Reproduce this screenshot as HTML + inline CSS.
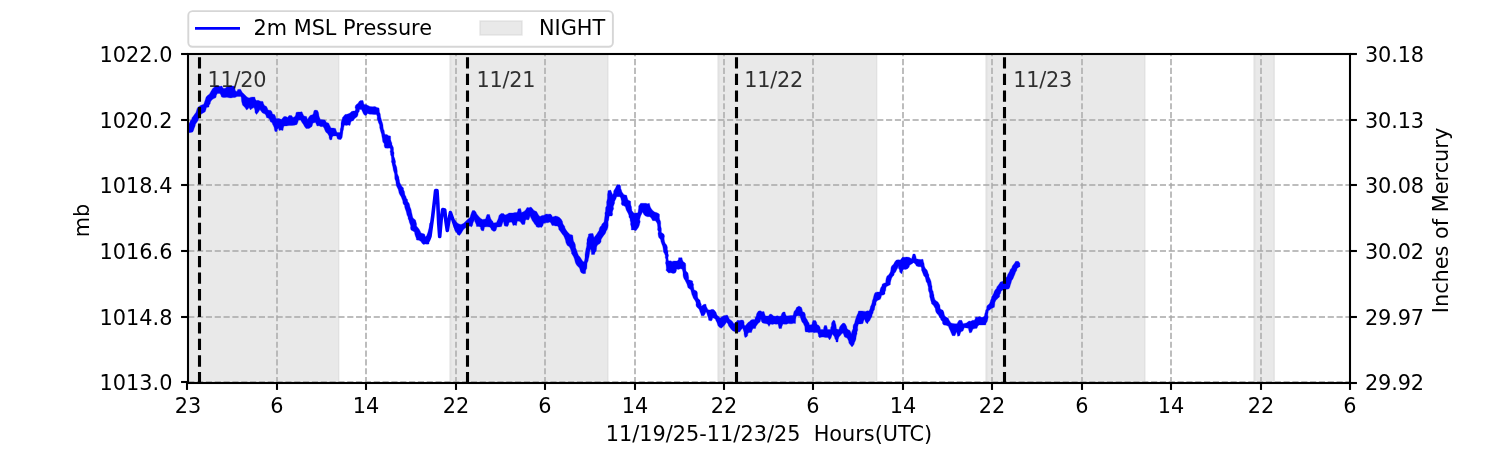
<!DOCTYPE html>
<html lang="en"><head><meta charset="utf-8"><title>2m MSL Pressure</title>
<style>html,body{margin:0;padding:0;background:#fff;}body{width:1500px;height:450px;overflow:hidden;}svg{display:block;}text{font-family:"DejaVu Sans","Liberation Sans",sans-serif;font-size:20.83px;fill:#000;}</style></head><body>
<svg width="1500" height="450" viewBox="0 0 1500 450">
<rect width="1500" height="450" fill="#fff"/>
<defs><clipPath id="ax"><rect x="187.5" y="54" width="1162.5" height="328.5"/></clipPath></defs>
<g clip-path="url(#ax)">
<rect x="186" y="49" width="152.7" height="338" fill="#d3d3d3" fill-opacity="0.5"/>
<path d="M338.7 49V387" stroke="#d3d3d3" stroke-opacity="0.5" stroke-width="1.4" fill="none"/>
<rect x="450.3" y="49" width="157.6" height="338" fill="#d3d3d3" fill-opacity="0.5"/>
<path d="M450.3 49V387" stroke="#d3d3d3" stroke-opacity="0.5" stroke-width="2" fill="none"/>
<path d="M607.9 49V387" stroke="#d3d3d3" stroke-opacity="0.5" stroke-width="1.4" fill="none"/>
<rect x="718.3" y="49" width="158.4" height="338" fill="#d3d3d3" fill-opacity="0.5"/>
<path d="M718.3 49V387" stroke="#d3d3d3" stroke-opacity="0.5" stroke-width="2" fill="none"/>
<path d="M876.7 49V387" stroke="#d3d3d3" stroke-opacity="0.5" stroke-width="1.4" fill="none"/>
<rect x="986.3" y="49" width="158.6" height="338" fill="#d3d3d3" fill-opacity="0.5"/>
<path d="M986.3 49V387" stroke="#d3d3d3" stroke-opacity="0.5" stroke-width="2" fill="none"/>
<path d="M1144.9 49V387" stroke="#d3d3d3" stroke-opacity="0.5" stroke-width="1.4" fill="none"/>
<rect x="1254.3" y="49" width="19.9" height="338" fill="#d3d3d3" fill-opacity="0.5"/>
<path d="M1254.3 49V387" stroke="#d3d3d3" stroke-opacity="0.5" stroke-width="2" fill="none"/>
<path d="M1274.2 49V387" stroke="#d3d3d3" stroke-opacity="0.5" stroke-width="1.4" fill="none"/>
</g>
<g stroke="#a8a8a8" stroke-width="1.667" stroke-dasharray="6.1667 2.6667" fill="none" clip-path="url(#ax)">
<path stroke="#b0b0b0" d="M188 383.2V54"/>
<path stroke="#b0b0b0" d="M277 383.2V54"/>
<path stroke="#b0b0b0" d="M366 383.2V54"/>
<path stroke="#b0b0b0" d="M456 383.2V54"/>
<path stroke="#b0b0b0" d="M545 383.2V54"/>
<path stroke="#b0b0b0" d="M635 383.2V54"/>
<path stroke="#b0b0b0" d="M724 383.2V54"/>
<path stroke="#b0b0b0" d="M813 383.2V54"/>
<path stroke="#b0b0b0" d="M903 383.2V54"/>
<path stroke="#b0b0b0" d="M992 383.2V54"/>
<path stroke="#b0b0b0" d="M1082 383.2V54"/>
<path stroke="#b0b0b0" d="M1171 383.2V54"/>
<path stroke="#b0b0b0" d="M1261 383.2V54"/>
<path stroke="#b0b0b0" d="M1350 383.2V54"/>
<path d="M188.2 54H1350"/>
<path d="M188.2 120H1350"/>
<path d="M188.2 185H1350"/>
<path d="M188.2 251H1350"/>
<path d="M188.2 317H1350"/>
<path d="M188.2 382H1350"/>
</g>
<path d="M187.5 126 L188.9 124.1 L189.62 122.46 L190.34 120.83 L191.6 119.49 L192 117.67 L193.2 116.3 L194.58 114.37 L195.9 112.4 L196.56 110.55 L197.07 108.64 L198.2 107 L200.5 105.4 L203.7 104.3 L204.46 102.15 L205.2 100 L205.5 99 L206.14 97.04 L207.5 95.5 L209.5 94 L210.45 92.22 L211.5 90.5 L212.45 88.75 L214 87.5 L215 86.2 L216.74 85.78 L218.5 86.03 L220.26 86.34 L222 86 L223 88.2 L225 88.5 L226.5 87 L228 86.5 L230.15 86.06 L232.32 86.05 L234.5 86.2 L234.89 88.62 L235.5 91 L237 91.5 L237.7 89.5 L240.5 89.2 L241.5 91 L242.36 92.6 L243.78 93.71 L245 95 L247 97 L249 98 L251 97.2 L253 97.11 L255 97.2 L255.2 99 L256.2 100.5 L258.15 100.35 L260 101 L260.5 101.2 L263 101.5 L263.45 103.61 L264.5 105.5 L266.5 106.5 L267.42 108.18 L268 110 L271 110.5 L272.04 112.12 L272.5 114 L274.5 114.5 L275.57 116.38 L276 118.5 L279 118.5 L281.5 119.5 L282.62 117.89 L284 116.5 L286 116.5 L287.5 117.5 L289 115.5 L291.5 115.5 L293 117.5 L295 116.5 L295.78 114.57 L296 112.5 L297.97 111.98 L300.01 112.11 L302 111.8 L302.89 113.95 L304 116 L306.5 116.5 L307.5 119.5 L308.65 117.44 L310 115.5 L313 114.5 L313.54 112.51 L314 110.5 L315.75 110.11 L317.5 110.5 L318.38 112.23 L318.76 114.1 L319 116 L319.6 117.81 L320.5 119.5 L322.76 119.69 L325 120 L326.5 122.5 L328.5 123 L330 126 L331 128 L333.27 128.08 L335.5 128.5 L336.18 130.53 L337 132.5 L340 132.5 L340.16 130.7 L340.22 128.88 L340.86 127.13 L340.98 125.32 L341 123.5 L341.28 121.44 L342.06 119.52 L342.5 117.5 L343.77 116.01 L345 114.5 L346.76 114.32 L348.39 113.7 L350 113 L351.5 111.5 L353.22 111.06 L355 111 L355.6 109.21 L354.99 107.3 L355.5 105.5 L356.7 104.2 L358.16 103.16 L359.03 101.53 L360.5 100.5 L363 100.5 L363.51 102.5 L364 104.5 L366.1 104.6 L368 105.5 L370 106.5 L372.5 106.65 L375 106.5 L376.92 107.47 L379 108 L379.31 110.01 L379.42 112.06 L380.29 113.97 L380.5 116 L380.83 117.85 L381.42 119.62 L381.93 121.42 L382.54 123.19 L383 125 L383.1 126.96 L383.41 128.88 L384.22 130.7 L384.46 132.63 L385 134.5 L386.94 134.62 L388.62 135.67 L390.5 136 L390.67 137.76 L390.66 139.56 L391.11 141.27 L391.89 142.93 L392 144.7 L393.3 147.3 L393.54 149.17 L393.43 151.07 L394.15 152.91 L393.89 154.82 L394 156.7 L394.69 158.35 L395.14 160.06 L395.59 161.77 L395.36 163.63 L396 165.3 L396.73 167.23 L397.02 169.26 L397.3 171.28 L397.27 173.37 L398 175.3 L398.86 176.94 L399.04 178.77 L399.46 180.53 L399.67 182.36 L400.5 184 L401.77 186.17 L403.5 188 L403.55 189.82 L404.44 191.46 L404.7 193.23 L405 195 L405.94 196.44 L406.36 198.17 L407.5 199.5 L407.73 201.51 L409.05 203.15 L409.65 205.03 L410 207 L410.73 208.6 L411.23 210.26 L411.5 212 L412.01 214 L412.42 216.02 L413 218 L415.5 220 L416.04 221.96 L416.61 223.93 L416.5 226 L417.81 227.45 L419 229 L420.11 230.95 L421 233 L422.73 233.56 L424.5 234 L425.5 237 L426.7 235.52 L427.32 233.74 L428 232 L428.39 230.25 L428.85 228.52 L429.28 226.78 L429.5 225 L429.76 223.12 L431.12 221.64 L431.66 219.87 L432.38 218.16 L432.7 216.3 L433.17 214.6 L433 212.83 L433.21 211.1 L433.15 209.34 L433.82 207.66 L433.51 205.87 L433.71 204.15 L434.04 202.43 L434.2 200.7 L434.7 199 L434.78 196.88 L434.75 194.76 L434.93 192.65 L435.6 190.6 L437 190.6 L437.43 192.35 L437.59 194.12 L437.47 195.91 L437.88 197.66 L437.24 199.48 L437.58 201.24 L437.8 203 L438.2 204.8 L438.19 206.63 L438.18 208.45 L438.25 210.27 L438.55 212.08 L437.98 213.92 L437.93 215.75 L438.49 217.54 L438.55 219.36 L438.99 221.17 L438.7 223 L439.2 224.9 L439.13 226.85 L439.34 228.77 L438.98 230.74 L439.72 232.62 L439.99 234.54 L439.7 236.5 L440.26 234.73 L440.04 232.9 L439.85 231.07 L440.36 229.3 L440.05 227.46 L440.66 225.7 L441.22 223.94 L441.27 222.13 L441.1 220.3 L441.54 218.53 L441.42 216.67 L441.78 214.88 L441.87 213.06 L442.68 211.34 L442.7 209.5 L444.7 210 L444.89 211.95 L444.88 213.93 L445.5 215.83 L445.81 217.77 L445.5 219.78 L446 221.7 L445.83 223.52 L446.21 225.27 L446.51 227.02 L446.76 228.78 L447.3 230.5 L447.79 228.77 L447.62 226.94 L448.16 225.22 L448.29 223.44 L448.7 221.7 L448.62 219.78 L448.96 217.94 L449.52 216.14 L449.85 214.3 L450.4 212.5 L450.81 214.18 L451.16 215.89 L452.17 217.36 L452.7 219 L455 220 L456.06 221.61 L457.36 222.98 L459 224 L461 224.5 L463.22 223.6 L465 222 L466.41 220.41 L468 219 L470 217.5 L470.39 215.67 L471.02 213.92 L471.62 212.16 L472.5 210.5 L474.5 210.5 L475.88 212.01 L476.74 213.9 L478 215.5 L479.26 217.1 L480.8 218.4 L482.5 219.5 L485.5 219 L486.23 216.74 L487 214.5 L489.5 214.5 L490.04 216.38 L490.58 218.26 L491.5 220 L492.81 221.29 L493.5 223 L496.5 222.5 L497.26 220.8 L498.1 219.12 L498.61 217.34 L499 215.5 L501 213.5 L503.5 213.5 L505 215 L507.1 214.2 L509 213 L511 212.98 L513 213 L514.96 212.46 L517 212.5 L517.75 210.82 L518 209 L520.5 208.5 L521.15 210.46 L521.5 212.5 L524 211.5 L525.72 209.66 L527 207.5 L529.05 207.67 L531 207 L532.57 208.69 L534 210.5 L536.5 211.5 L537.58 213.21 L538.5 215 L540 216.5 L542 215.5 L544.14 215.13 L546 214 L548.25 214.2 L550.5 214 L551.75 215.34 L552.5 217 L555.5 216 L557.62 216.44 L559.5 217.5 L561.25 219.31 L562.5 221.5 L562.78 223.26 L563.49 224.85 L564.67 226.26 L565 228 L566.02 229.8 L567.16 231.51 L568.64 232.96 L570 234.5 L572.5 235 L572.97 236.98 L573.12 239.01 L573.5 241 L574.48 242.54 L575.24 244.17 L575.5 246 L575.59 247.87 L576.37 249.54 L576.98 251.26 L577.5 253 L578.42 255.21 L580 257 L581.3 258.97 L582.5 261 L584 262 L584.66 260.06 L584.96 258.05 L585 256 L585.04 254.16 L585.38 252.36 L585.72 250.57 L585.97 248.76 L586.5 247 L586.78 245.21 L586.68 243.38 L587.03 241.59 L586.97 239.76 L587.5 238 L588.36 236.09 L588.5 234 L590.74 233.62 L593 233.5 L593.54 235.49 L594 237.5 L596 235 L597.06 233.54 L598 232 L599 230.47 L599.27 228.64 L600 227 L601.31 225.71 L602 224 L604 222 L604.25 220.25 L604.53 218.5 L604.77 216.75 L605 215 L604.85 213.1 L605.5 211.33 L605.55 209.46 L605.67 207.6 L606.66 205.87 L606.67 204 L606.56 202.07 L607.02 200.19 L607.44 198.31 L607.48 196.39 L607.46 194.46 L607.83 192.57 L608 190.67 L610.67 190 L611.62 192.35 L612.67 194.67 L613.57 192.98 L613.67 190.99 L614.67 189.33 L615.6 187.8 L616.25 186.11 L617.33 184.67 L620 184.67 L620.69 186.45 L620.76 188.4 L621.49 190.17 L622 192 L624 194.67 L626.67 195.33 L627.28 197.68 L628 200 L630.67 201.33 L630.7 203.23 L630.83 205.12 L631.52 206.93 L631.63 208.81 L632 210.67 L634 213.33 L636 213 L638 212.67 L638.23 210.45 L638.62 208.24 L638.67 206 L640.67 203.33 L642.4 203.29 L644.13 203.36 L645.87 203.31 L647.6 203.73 L649.33 203.33 L649.83 205.17 L650.35 207.01 L651.33 208.67 L652.72 210.61 L654.67 212 L657.09 212.8 L659.33 214 L659.5 215.84 L659.38 217.71 L659.7 219.54 L660.55 221.29 L660.78 223.13 L660.67 225 L660.89 226.83 L661.38 228.63 L661.4 230.48 L661.33 232.33 L664 234.33 L664.55 236.13 L664.18 238.01 L664.25 239.86 L664.67 241.67 L665.36 243.52 L666.67 245 L667.42 247.16 L667.36 249.48 L668 251.67 L667.99 253.54 L668.59 255.38 L668.06 257.29 L668.11 259.16 L668.67 261 L670.4 260.75 L672.13 261.41 L673.87 260.91 L675.6 260.99 L677.33 261 L678.41 259.5 L678.67 257.67 L682 257.67 L682.38 259.76 L683.33 261.67 L685.33 263 L685.8 264.97 L685.73 266.99 L685.82 269 L686 271 L688 273 L688.37 275.21 L688.72 277.42 L688.67 279.67 L690.72 280.18 L692.67 281 L692.74 282.76 L693.63 284.4 L693.42 286.21 L693.79 287.93 L694 289.67 L696.67 291 L697.43 292.76 L697.48 294.64 L697.56 296.52 L698 298.33 L700 300.33 L700.43 302.34 L701.27 304.25 L701.33 306.33 L704 304.33 L706 304.33 L706.26 306.26 L707.09 307.98 L708 309.67 L710 310.09 L712 309.31 L714 309.67 L715.07 311.12 L716.14 312.57 L716.67 314.33 L717.58 315.83 L719.05 316.87 L720 318.33 L721.82 316.72 L724 315.67 L727.33 315 L728.4 316.97 L729.33 319 L732 321 L734 323.67 L735.93 322.26 L737.33 320.33 L739.33 320.62 L741.33 320.12 L743.33 320.33 L744.19 322.13 L744.08 324.22 L745 326 L746.55 324.29 L748 322.5 L749.62 321.39 L751 320 L752.95 319.38 L755 319.5 L755.12 317.76 L756.16 316.3 L756.44 314.61 L757 313 L758.5 311 L760.37 310.78 L762.13 311.73 L764 311.5 L764.64 313.79 L765.5 316 L768.5 316 L770 314 L772 314.5 L773.5 316 L775.38 316.27 L777.25 315.63 L779.12 316.32 L781 316 L781.65 313.83 L783 312 L785 312 L785.44 314.11 L786.5 316 L788.66 315.79 L790.82 315.52 L793 315.5 L793.55 313.51 L794 311.5 L795.58 309.7 L796.5 307.5 L799 306 L801.5 307.5 L802.2 309.45 L802.5 311.5 L804.5 312.5 L805.32 314.25 L805.48 316.17 L806 318 L807.2 319.63 L808 321.5 L809.07 323.11 L809.5 325 L812 324.5 L812.2 322.43 L813 320.5 L815.5 320.5 L816.63 322.36 L817 324.5 L819 325.5 L820 327 L820.5 329.5 L823.5 329.5 L823.74 327.43 L824.5 325.5 L826.5 325.5 L827.16 327.46 L827.5 329.5 L830.5 329.5 L830.7 327.59 L831.48 325.8 L831.44 323.84 L832 322 L833.5 320 L835 321 L835.37 323 L836.03 324.95 L836.26 326.97 L836.5 329 L839 329.5 L839.6 327.07 L841 325 L843 323 L845 323.5 L845.88 325.08 L846.74 326.67 L847 328.5 L848.38 329.67 L850 330.5 L850.71 332.27 L851.5 334 L851.6 332.19 L852.23 330.5 L853.01 328.83 L853 327 L853.33 324.89 L854.61 323.09 L855 321 L855.61 318.98 L856.33 317 L857 315 L858.03 313.11 L858.5 311 L860.25 310.9 L862 311.01 L863.75 311.17 L865.5 311.43 L867.25 310.86 L869 311 L870.03 308.84 L870.5 306.5 L871.4 304.67 L872.05 302.71 L872.33 300.67 L873.12 298.71 L873.59 296.64 L874.2 294.62 L875 292.67 L877.28 291.94 L879.67 292 L880.02 289.89 L880.63 287.88 L881.87 286.07 L882.33 284 L883.92 283.13 L885.67 282.67 L885.81 280.39 L886.19 278.15 L887 276 L888.55 274.88 L889.67 273.33 L890.49 271.59 L890.81 269.71 L890.98 267.78 L891.67 266 L893.67 264 L894.81 261.87 L896.33 260 L898.33 259.81 L900.33 260 L902.33 257.33 L904.56 257.3 L906.78 257.03 L909 257.33 L911.67 258.67 L912.29 256.32 L913 254 L915 254 L915.87 256.27 L916.33 258.67 L918.51 259.3 L920.74 259.53 L923 259.33 L923.4 261.56 L924.11 263.73 L924.33 266 L925.32 268.23 L927 270 L927.66 271.62 L928.12 273.3 L928.93 274.87 L929 276.67 L930.1 278.96 L931 281.33 L931.29 283.06 L931.53 284.8 L932.07 286.49 L932.06 288.27 L932.33 290 L933.2 291.57 L933.41 293.31 L933.99 294.96 L934.07 296.73 L935 299.67 L936.4 300.94 L937.96 302.04 L939 303.67 L939.86 305.34 L940.06 307.18 L940.33 309 L943 310.33 L943.89 312.26 L944.26 314.36 L945 316.33 L946.65 317.36 L948.33 318.33 L949.03 320 L949.99 321.51 L951 323 L952.98 323.42 L954.96 323.78 L957 323.67 L957.91 321.95 L959 320.33 L961.67 320.33 L962.48 321.94 L963 323.67 L966.33 323 L969 321 L970.83 321.21 L972.52 320.24 L974.33 320.33 L975.19 318.74 L975.67 317 L977.67 317.13 L979.67 316.59 L981.67 317.3 L983.67 317 L984.5 315.43 L984.78 313.7 L985.37 312.06 L985.67 310.33 L986.6 308.65 L986.7 306.66 L987.67 305 L988.33 304.67 L989.67 303.33 L990.19 301.67 L990.67 300 L991.46 298.42 L991.67 296.67 L992.8 295.01 L993.71 293.24 L994.33 291.33 L995.29 289.82 L996.42 288.4 L997 286.67 L998.25 285.21 L999.36 283.66 L1000.33 282 L1003 281.33 L1004.15 279.62 L1005.35 277.95 L1007 276.67 L1007.59 274.74 L1008.67 273.06 L1009.67 271.33 L1010.24 269.4 L1011.71 267.91 L1012.33 266 L1013.49 264.48 L1014.65 262.96 L1015.67 261.33 L1018.33 261.33 L1019.93 263.33 L1019.93 266.67 L1018.28 267.4 L1017 268.67 L1016.71 270.59 L1015.56 272.18 L1015 274 L1014 276.33 L1013 278.67 L1011.63 280.84 L1011 283.33 L1010.34 285.11 L1009.9 286.98 L1009 288.67 L1007.03 289.21 L1005 289.33 L1002.83 290 L1001 291.33 L1000.67 293.14 L999.71 294.79 L999.67 296.67 L998.34 298.01 L996.96 299.3 L995.67 300.67 L994.86 302.82 L994.72 305.1 L994.33 307.33 L992.61 307.93 L991.05 308.8 L989.67 310 L988.33 310.67 L988.18 312.46 L987.78 314.25 L987.9 316.06 L988.05 317.89 L987.67 319.67 L987.22 321.53 L986.11 323.14 L985.67 325 L983.44 324.99 L981.22 325.11 L979 325 L977.63 326.45 L977 328.33 L974.99 328.61 L973 329 L972.29 330.65 L971.67 332.33 L969.67 333 L968.86 330.71 L968.33 328.33 L966.34 327.93 L964.33 327.67 L963.74 329.36 L963 331 L961 331.67 L960.27 333.64 L959.67 335.67 L957.67 336.33 L957.17 333.95 L956.33 331.67 L955.78 333.7 L955 335.67 L952.33 335.67 L951.29 333.35 L950.33 331 L949.25 328.7 L948.33 326.33 L946.09 325.34 L943.67 325 L942.56 323.47 L942.37 321.48 L940.96 320.1 L940.33 318.33 L939.18 316.81 L938.45 314.98 L937 313.67 L936 312.13 L935.48 310.41 L935.21 308.58 L934.33 307 L934.07 306.6 L933.12 305.07 L931.67 304 L931.27 302.14 L930.65 300.34 L930.25 298.48 L929.67 296.67 L929.65 294.76 L929.42 292.89 L928.57 291.11 L928.29 289.24 L928.33 287.33 L927.75 285.31 L927.24 283.25 L926.09 281.41 L925.67 279.33 L925.11 277.37 L923.73 275.79 L923.07 273.88 L922.33 272 L921.54 270.31 L921.54 268.42 L921 266.67 L918.61 266.71 L916.33 266 L915.31 264.08 L913.67 262.67 L911.66 263.99 L909.67 265.33 L909.03 267.22 L907.67 268.67 L905.73 269.39 L903.67 269.33 L902.36 271.53 L901.67 274 L899.67 272 L899.49 269.94 L898.37 268.09 L898.33 266 L897.7 268.11 L896.55 270 L895.67 272 L894.37 273.3 L893.99 275.21 L892.68 276.51 L891.67 278 L891.03 280.18 L890.47 282.38 L890.33 284.67 L888.34 285.67 L886.33 286.67 L885.89 288.48 L885.77 290.35 L884.97 292.1 L885 294 L883.47 295.01 L881.67 295.33 L881.12 297.37 L880.33 299.33 L878.68 300.04 L877 300.67 L876.04 302.55 L875.93 304.67 L875.03 306.23 L874.67 307.99 L874.41 309.79 L873.39 311.3 L873.12 313.1 L872.17 314.64 L871.96 316.46 L871 318 L869.5 321 L868.13 322.25 L867.5 324 L865.5 322 L864.5 319 L863.5 321.17 L863 323.5 L860.77 323.95 L858.5 324 L857.86 325.95 L857.63 327.98 L857.81 330.08 L857 332 L857.07 333.8 L856.43 335.49 L856.12 337.23 L856 339 L855.39 340.85 L854.51 342.61 L854 344.5 L852 347 L850 344.5 L848.88 343.05 L848.66 341.18 L847.93 339.54 L847 338 L844.5 337 L843.83 334.97 L843 333 L841.5 334 L840.39 335.61 L839 337 L838.2 339.44 L838 342 L836 342 L835.85 340.23 L834.88 338.7 L834.5 337 L833.46 335.53 L832.5 334 L831.66 335.97 L831 338 L829.5 340 L828 337.5 L825.5 337.5 L823.02 336.99 L820.5 337.2 L820 338 L818.5 336.5 L818.38 334.4 L817.5 332.5 L815.8 332.54 L814.1 332.77 L812.4 332.23 L810.7 332.33 L809 332.5 L807.29 331.97 L805.5 332 L804.97 330.28 L804.9 328.47 L804.8 326.66 L804 325 L803.22 323.35 L802 322 L801.2 320.04 L800.58 318.03 L800 316 L798.25 315.78 L796.5 316 L795.99 317.84 L795.68 319.71 L795.63 321.61 L795.5 323.5 L793.7 323.32 L791.93 323.75 L790.15 323.8 L788.34 323.43 L786.59 324.26 L784.8 324.18 L783 324 L782.05 326.18 L781.5 328.5 L779 328.5 L778.54 326.24 L778 324 L776.12 324.33 L774.25 323.89 L772.38 324.39 L770.5 324 L769 326.5 L767.5 324 L764.99 323.57 L762.5 323 L761.35 321.15 L761 319 L760 322 L758.3 323.3 L757 325 L755.94 326.62 L755.5 328.5 L753 328.5 L752.08 330.43 L751.5 332.5 L749 332.5 L747.81 333.8 L747.66 335.68 L746.5 337 L745 337.5 L744.37 335.84 L744.05 334.11 L744 332.33 L743.35 330.33 L742.67 328.33 L741.05 329.78 L740 331.67 L737.67 332.11 L735.33 331.67 L733.62 331.13 L732 330.33 L730 327.67 L728.65 326.04 L727.98 323.98 L726.67 322.33 L724.67 325 L723 326.67 L721.33 328.33 L719.39 327.35 L718 325.67 L717.42 323.97 L716.81 322.28 L715.93 320.69 L715.33 319 L712.67 317.67 L712.32 319.46 L711.33 321 L708.67 320.33 L708.43 318.51 L707.82 316.8 L707.28 315.07 L706.79 313.32 L706 311.67 L705.19 313.76 L704 315.67 L701.33 315.67 L700.78 313.63 L699.94 311.69 L699.33 309.67 L698.13 308.2 L696.67 307 L695.92 305.07 L696.11 302.93 L695.33 301 L694.32 299.52 L693.28 298.04 L692.67 296.33 L691.95 294.73 L691.52 293.05 L691.06 291.36 L690.67 289.67 L688.67 288.33 L688 287.67 L687.4 285.86 L686.89 284.03 L686 282.33 L685.15 280.53 L684.05 278.86 L683.33 277 L683 275 L683.02 272.94 L682.7 270.94 L682 269 L680.22 268.79 L678.44 269.44 L676.67 269 L676.33 271.11 L675.33 273 L673.11 273.43 L670.89 272.84 L668.67 273 L667.3 271.7 L666 270.33 L666.34 268.48 L666.22 266.65 L665.98 264.82 L665.44 263.01 L665.86 261.15 L665.88 259.32 L665.16 257.51 L665.33 255.67 L664.44 253.61 L663.33 251.67 L663.27 249.87 L663.04 248.09 L662.67 246.33 L662.07 244.69 L661.43 243.07 L660.89 241.42 L660.67 239.67 L658.67 237.33 L658.26 235.45 L658.01 233.55 L658.38 231.59 L657.52 229.75 L657.72 227.81 L657.59 225.9 L657.33 224 L656.53 222.22 L655.33 220.67 L652.67 220.67 L651.42 218.61 L650 216.67 L647.61 216.74 L645.33 216 L643.66 214.23 L642.67 212 L641.65 213.99 L640.67 216 L640.16 217.83 L639.71 219.67 L640.26 221.66 L639.72 223.48 L639.33 225.33 L638.54 227.31 L637.31 229.01 L636 230.67 L633.73 229.89 L631.33 230 L631.31 228.09 L631.05 226.2 L630.47 224.36 L630.66 222.42 L630.12 220.57 L630 218.67 L628.95 217.15 L628.86 215.26 L628.13 213.61 L627.33 212 L626.33 210.35 L625.79 208.52 L625.33 206.67 L623.75 205.8 L622 205.33 L621.23 203.69 L621.58 201.78 L621.21 200.04 L620.8 198.31 L620 196.67 L616.67 196.67 L615.89 199.09 L614.67 201.33 L614.61 203.22 L613.92 204.99 L613.25 206.76 L613.68 208.73 L612.88 210.48 L612.39 212.28 L612.7 214.23 L612 216 L609.33 216 L608.93 217.89 L608.74 219.81 L608.08 221.65 L608.13 223.61 L608.19 225.57 L607.91 227.47 L607.33 229.33 L606.13 231.33 L606 232 L605 234 L603.4 235.92 L602 238 L601.09 239.74 L601.06 241.81 L600 243.5 L597.5 245 L596.67 246.92 L596.5 249 L596.22 250.97 L595.04 252.62 L594.5 254.5 L591.5 254.5 L591.36 252.63 L591.27 250.75 L590.5 249 L589.83 250.95 L589.6 252.97 L589.26 254.98 L589 257 L588.39 258.97 L588.14 261.04 L587.09 262.9 L587 265 L586.92 266.74 L586.79 268.47 L585.82 270.05 L585.65 271.77 L585.5 273.5 L583.45 273.64 L581.5 273 L580.42 271.5 L579.97 269.74 L579.5 268 L577.9 266.55 L576.55 264.89 L575.5 263 L574.99 261.37 L574.67 259.66 L574.08 258.06 L573.4 256.49 L572.5 255 L571.47 253.39 L571.49 251.41 L570.72 249.72 L570 248 L569.07 246.46 L567.36 245.6 L566.5 244 L565.86 242.38 L565.57 240.65 L565 239 L564.38 237.38 L563.58 235.86 L562.5 234.5 L561.25 232.75 L560 231 L558.8 229.52 L558.5 227.58 L557.5 226 L555.65 226.07 L553.86 225.42 L552 225.5 L551.21 223.63 L550 222 L547.9 222.78 L545.63 222.83 L543.5 223.5 L542.88 225.69 L541.5 227.5 L540 227 L539 227.5 L536.5 227 L535.72 225.35 L534.5 224 L533.5 222.34 L532.32 220.78 L531.5 219 L530 216 L529.5 218.09 L528.5 220 L526 219.5 L525.24 221.09 L525.16 222.88 L524.5 224.5 L522 224.5 L521.06 222.96 L520 221.5 L517.5 221 L516.86 223.22 L516.5 225.5 L514.75 225.08 L513 225.5 L512.48 223.65 L511.5 222 L509 222.5 L508.61 224.63 L507.5 226.5 L504.5 226 L503.85 223.78 L503.5 221.5 L502.63 223.09 L502.1 224.81 L501.5 226.5 L499.27 226.91 L497 227 L496.5 228.75 L496 230.5 L494 231.5 L491.5 230 L490.86 228.26 L489.5 227 L487 226.83 L484.5 227 L484.18 229.04 L483.5 231 L481.5 230.5 L480.6 228.86 L480.5 227 L478.53 226.52 L476.5 226.5 L476.23 224.68 L475.52 222.99 L474.67 221.34 L474.5 219.5 L473.87 221.3 L473 223 L472.64 225.15 L471.5 227 L470 226 L467 227 L465.48 227.97 L464 229 L462.6 230.91 L461.5 233 L459.5 235.5 L457.5 234.5 L456.61 232.49 L455 231 L454.58 229.3 L454.59 227.52 L454.11 225.84 L453.61 224.16 L453.34 222.43 L453.41 220.64 L452.7 219 L452.45 217.26 L451.38 215.81 L450.86 214.17 L450.4 212.5 L449.84 214.3 L449.39 216.12 L449.21 217.99 L449.17 219.88 L448.7 221.7 L448.79 223.52 L447.9 225.18 L448.11 227.02 L447.17 228.67 L447.3 230.5 L446.99 228.75 L446.82 226.97 L446.28 225.25 L446.13 223.48 L446 221.7 L445.58 219.77 L445.17 217.84 L445.19 215.87 L445.11 213.9 L445.23 211.92 L444.7 210 L442.7 209.5 L442.09 211.25 L441.94 213.07 L442.32 214.96 L441.95 216.75 L441.66 218.54 L441.1 220.3 L441.33 222.13 L440.69 223.89 L440.19 225.66 L440.56 227.51 L440.3 229.3 L440.52 231.13 L440.2 232.92 L439.44 234.66 L439.7 236.5 L439.99 234.54 L439.08 232.67 L438.96 230.74 L438.72 228.82 L439.03 226.85 L438.93 224.92 L438.7 223 L438.84 221.17 L438.74 219.35 L438.71 217.53 L438.05 215.74 L438.17 213.91 L438.21 212.09 L438.46 210.26 L437.62 208.47 L438.16 206.63 L438.28 204.8 L437.8 203 L437.83 201.22 L437.68 199.45 L437.44 197.69 L437.42 195.91 L437.31 194.14 L436.89 192.39 L437 190.6 L435.6 190.6 L435.72 192.74 L435.21 194.81 L434.71 196.88 L434.7 199 L434.27 200.7 L433.93 202.42 L433.96 204.17 L433.53 205.88 L433.42 207.62 L433.18 209.34 L433.26 211.1 L433.54 212.89 L433.26 214.61 L432.7 216.3 L432.22 218 L432.23 219.76 L432.37 221.54 L431.51 223.19 L431.24 224.92 L431.02 226.65 L430.99 228.41 L430.9 230.16 L430.44 231.86 L430.53 233.63 L429.94 235.32 L430.35 237.13 L429.91 238.83 L429.28 240.51 L429.09 242.25 L429 244 L427.16 244.14 L425.3 244 L423.5 244.5 L421.95 243.25 L421 241.5 L418.88 240.36 L416.5 240 L416.19 237.95 L415.37 236.03 L414.78 234.06 L414.5 232 L412.77 230.96 L411 230 L410.46 228.03 L410.73 225.93 L410 224 L409.31 222.3 L408.96 220.51 L408.12 218.86 L408 217 L406.98 215.12 L406.55 213.04 L406 211 L405.23 209.07 L404.66 207.08 L404.5 205 L404 205 L402.94 203.13 L402.77 200.96 L402 199 L401.25 196.88 L399.99 195 L399 193 L398.7 191.27 L398.22 189.6 L397.5 188 L396.38 185.77 L396 183.3 L395.76 181.06 L394.84 178.96 L394.7 176.7 L394.7 174.95 L394.4 173.27 L393.85 171.63 L393.3 170 L393.04 168.31 L392.77 166.63 L392.25 164.99 L392 163.3 L391.33 161.66 L391.65 159.89 L391.45 158.19 L391.3 156.48 L390.53 154.85 L390.48 153.12 L390.06 151.45 L390.56 149.66 L390 148 L387.5 148.31 L385 148 L384.16 146.07 L384.18 143.87 L382.83 142.09 L382.5 140 L382.26 138.16 L381.84 136.37 L381.62 134.53 L381.07 132.76 L380.5 131 L380.13 129.32 L379.67 127.66 L379.68 125.89 L379.25 124.23 L378.43 122.66 L378 121 L377.15 118.91 L377.24 116.61 L376.5 114.5 L374 114.5 L371.81 114.35 L369.61 114.18 L367.5 113.5 L366.5 115 L365 115.5 L363.5 114 L362.49 111.75 L361.5 109.5 L359.5 109.5 L359.28 111.41 L358.18 113.08 L358 115 L357.19 116.63 L355.77 117.76 L354.38 118.92 L353.5 120.5 L351 121.5 L350.57 123.52 L350 125.5 L348.19 125.07 L346.3 125.57 L344.5 125 L343.75 127.19 L343.5 129.5 L342.96 131.3 L342.79 133.16 L342.5 135 L342.15 137.38 L341 139.5 L339.21 139.54 L337.5 139 L336.5 136 L334.75 135.96 L333 136 L332.08 137.63 L332 139.5 L330 140 L329.12 138.1 L329 136 L327.5 133.5 L325.92 132.28 L325 130.5 L324.24 128.38 L323 126.5 L320.97 126.69 L319.03 125.82 L317 126 L316.28 124.24 L315.5 122.5 L313 123 L312.47 124.74 L312 126.5 L310.51 127.51 L309 128.5 L306 128.5 L304.5 126.5 L303.41 124.4 L302 122.5 L300.5 120 L298.5 120 L297.9 122.3 L297 124.5 L294.53 125.17 L292 125.5 L289 125.5 L286.52 125.9 L284 126 L283.3 128.2 L283 130.5 L281 130.1 L279 130.5 L278.5 128 L277.35 129.58 L277 131.5 L275 131.5 L274.44 129.68 L274.17 127.79 L273.5 126 L272.55 124.34 L272 122.5 L270.5 122 L269.95 120.16 L269 118.5 L266.5 117.5 L266.04 115.63 L265 114 L262.5 113 L260.5 110.5 L260 109.5 L258.5 112 L256.5 114.5 L255 112.5 L254.87 109.93 L254 107.5 L252 108.5 L250.5 110 L249 107.5 L248 109 L246.5 110 L245 107.5 L243.66 106.34 L242.5 105 L242.1 103.32 L241.66 101.64 L241.44 99.93 L241.32 98.2 L241 96.5 L239 96.39 L237 96.5 L235 97.5 L233 97.49 L231 97.93 L229 97.72 L227 97.23 L225 97.5 L223.22 97.45 L221.5 97 L220.94 95.17 L220 93.5 L217.5 93.5 L216.39 95.37 L216 97.5 L213 99 L211.58 100.36 L210.5 102 L210.2 103.73 L209.13 105.22 L209 107 L206.5 107.5 L206.4 107.8 L205.94 109.79 L205.2 111.7 L203.27 112.88 L201.3 114 L200.4 115.57 L199.69 117.24 L198.6 118.7 L197.89 120.72 L196.7 122.5 L195.49 124.15 L195.09 126.16 L194.3 128 L193.7 130.01 L192.8 131.9 L190.87 132.41 L188.9 132.7 L187.5 134Z" fill="#0000ff" stroke="#0000ff" stroke-width="0.3" stroke-linejoin="round" clip-path="url(#ax)"/>
<path d="M428.5 240 L430 236.3 L432.7 216.3 L434.7 199 L435.6 190.6 L437 190.6 L437.8 203 L438.7 223 L439.7 236.5 L441.1 220.3 L442.7 209.5 L444.7 210 L446 221.7 L447.3 230.5 L448.7 221.7 L450.4 212.5 L452.7 219 L455.3 227 L458.7 232" fill="none" stroke="#0000ff" stroke-width="3.6" stroke-linejoin="round" stroke-linecap="round" clip-path="url(#ax)"/>
<g stroke="#000" stroke-width="3.1" stroke-dasharray="11.3 5.26" fill="none" clip-path="url(#ax)">
<path d="M199.5 383.2V50"/>
<path d="M467.5 383.2V50"/>
<path d="M736.5 383.2V50"/>
<path d="M1004.5 383.2V50"/>
</g>
<g fill="#000" fill-opacity="0.8">
<text x="207.5" y="86.9" textLength="59" lengthAdjust="spacing" style="fill:#000;fill-opacity:0.8">11/20</text>
<text x="476.4" y="86.9" textLength="59" lengthAdjust="spacing" style="fill:#000;fill-opacity:0.8">11/21</text>
<text x="744.3" y="86.9" textLength="59" lengthAdjust="spacing" style="fill:#000;fill-opacity:0.8">11/22</text>
<text x="1013.3" y="86.9" textLength="59" lengthAdjust="spacing" style="fill:#000;fill-opacity:0.8">11/23</text>
</g>
<rect x="188" y="54" width="1162" height="329" fill="none" stroke="#000" stroke-width="2.08"/>
<g stroke="#000" stroke-width="2.08" fill="none">
<path d="M187 383v6.94"/>
<path d="M277 383v6.94"/>
<path d="M366 383v6.94"/>
<path d="M456 383v6.94"/>
<path d="M545 383v6.94"/>
<path d="M635 383v6.94"/>
<path d="M724 383v6.94"/>
<path d="M813 383v6.94"/>
<path d="M903 383v6.94"/>
<path d="M992 383v6.94"/>
<path d="M1082 383v6.94"/>
<path d="M1171 383v6.94"/>
<path d="M1261 383v6.94"/>
<path d="M1350 383v6.94"/>
<path d="M188 54h-6.94"/>
<path d="M1350 54h6.94"/>
<path d="M188 120h-6.94"/>
<path d="M1350 120h6.94"/>
<path d="M188 185h-6.94"/>
<path d="M1350 185h6.94"/>
<path d="M188 251h-6.94"/>
<path d="M1350 251h6.94"/>
<path d="M188 317h-6.94"/>
<path d="M1350 317h6.94"/>
<path d="M188 382h-6.94"/>
<path d="M1350 383h6.94"/>
</g>
<text x="188" y="413" text-anchor="middle">23</text>
<text x="277" y="413" text-anchor="middle">6</text>
<text x="366" y="413" text-anchor="middle">14</text>
<text x="456" y="413" text-anchor="middle">22</text>
<text x="545" y="413" text-anchor="middle">6</text>
<text x="635" y="413" text-anchor="middle">14</text>
<text x="724" y="413" text-anchor="middle">22</text>
<text x="813" y="413" text-anchor="middle">6</text>
<text x="903" y="413" text-anchor="middle">14</text>
<text x="992" y="413" text-anchor="middle">22</text>
<text x="1082" y="413" text-anchor="middle">6</text>
<text x="1171" y="413" text-anchor="middle">14</text>
<text x="1261" y="413" text-anchor="middle">22</text>
<text x="1350" y="413" text-anchor="middle">6</text>
<text x="172.5" y="61.9" text-anchor="end">1022.0</text>
<text x="1365" y="61.9" textLength="59" lengthAdjust="spacing">30.18</text>
<text x="172.5" y="127.9" text-anchor="end">1020.2</text>
<text x="1365" y="127.9" textLength="59" lengthAdjust="spacing">30.13</text>
<text x="172.5" y="192.9" text-anchor="end">1018.4</text>
<text x="1365" y="192.9" textLength="59" lengthAdjust="spacing">30.08</text>
<text x="172.5" y="258.9" text-anchor="end">1016.6</text>
<text x="1365" y="258.9" textLength="59" lengthAdjust="spacing">30.02</text>
<text x="172.5" y="324.9" text-anchor="end">1014.8</text>
<text x="1365" y="324.9" textLength="59" lengthAdjust="spacing">29.97</text>
<text x="172.5" y="389.9" text-anchor="end">1013.0</text>
<text x="1365" y="389.9" textLength="59" lengthAdjust="spacing">29.92</text>
<text x="769" y="441" text-anchor="middle" xml:space="preserve">11/19/25-11/23/25  Hours(UTC)</text>
<text transform="translate(89 220.5) rotate(-90)" text-anchor="middle">mb</text>
<text transform="translate(1448 220.5) rotate(-90)" text-anchor="middle">Inches of Mercury</text>
<rect x="188.3" y="11.1" width="424.6" height="35.6" rx="4.2" ry="4.2" fill="#fff" fill-opacity="0.8" stroke="#ccc" stroke-opacity="0.8" stroke-width="1.9"/>
<path d="M195 28.3H240" stroke="#0000ff" stroke-width="2.78" fill="none"/>
<text x="253.5" y="35">2m MSL Pressure</text>
<rect x="480" y="21" width="42" height="14" fill="#d3d3d3" fill-opacity="0.5" stroke="#d3d3d3" stroke-opacity="0.5" stroke-width="1.5"/>
<text x="539" y="35">NIGHT</text>
</svg></body></html>
